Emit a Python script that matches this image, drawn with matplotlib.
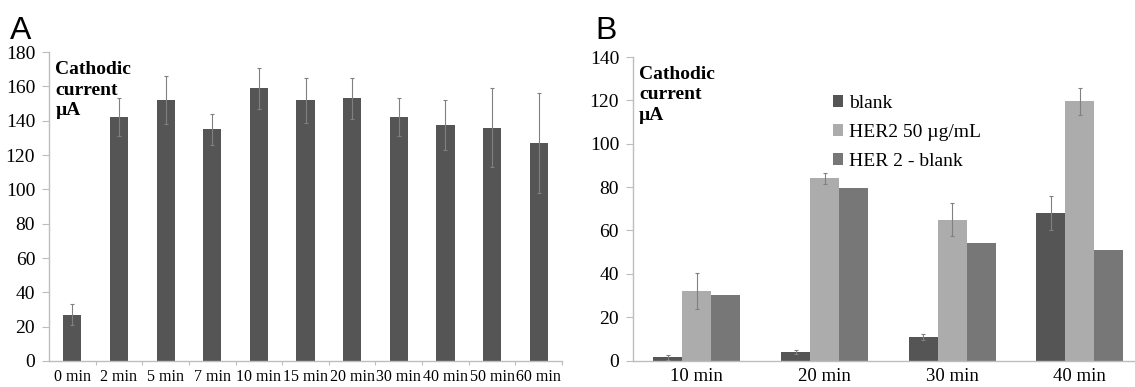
import numpy as np
import matplotlib
matplotlib.use("Agg")
import matplotlib.pyplot as plt

# panel A: single series over time
times_a = ["0 min", "2 min", "5 min", "7 min", "10 min", "15 min",
           "20 min", "30 min", "40 min", "50 min", "60 min"]
current_a = [27, 142, 152, 135, 159, 152, 153, 142, 137.5, 136, 127]
err_a = [6, 11, 14, 9, 12, 13, 12, 11, 14.5, 23, 29]

# panel B: grouped series
times_b = ["10 min", "20 min", "30 min", "40 min"]
blank = [1.5, 4, 11, 68]
blank_err = [1, 1, 1.3, 8]
her2 = [32, 84, 65, 119.5]
her2_err = [8.4, 2.5, 7.5, 6.2]
diff = [30.3, 79.5, 54.3, 51.2]

serif = "Liberation Serif"
axis_col = "#bdbdbd"
err_kw = dict(ecolor="#808080", elinewidth=0.8, capsize=1.5, capthick=0.8)


def style_axes(ax):
    for s in ["top", "right"]:
        ax.spines[s].set_visible(False)
    for s in ["left", "bottom"]:
        ax.spines[s].set_color(axis_col)
        ax.spines[s].set_linewidth(1.0)
    ax.tick_params(axis="y", direction="out", length=5, width=0.8,
                   color=axis_col, pad=5, labelsize=14)
    for lab in ax.get_yticklabels():
        lab.set_fontfamily(serif)


def cathodic_label(ax):
    ax.text(0.012, 0.97, "Cathodic\ncurrent\nµA", transform=ax.transAxes,
            ha="left", va="top", fontfamily=serif, fontweight="bold",
            fontsize=14, linespacing=1.25)


fig = plt.figure(figsize=(11.35, 3.87), dpi=100)

# ---- panel A
ax1 = fig.add_axes([0.0432, 0.0672, 0.452, 0.798])
x = np.arange(len(times_a))
ax1.bar(x, current_a, 0.39, color="#555555", yerr=err_a, error_kw=err_kw)
ax1.set_xlim(-0.5, len(times_a) - 0.5)
ax1.set_ylim(0, 180)
ax1.set_yticks(range(0, 181, 20))
ax1.set_xticks(x)
ax1.set_xticklabels(times_a, fontfamily=serif, fontsize=11.5)
ax1.set_xticks(np.arange(0.5, len(times_a), 1), minor=True)
ax1.tick_params(axis="x", which="major", length=0, pad=6)
ax1.tick_params(axis="x", which="minor", length=3, width=0.8, color=axis_col)
style_axes(ax1)
cathodic_label(ax1)
fig.text(10 / 1135, 1 - 39 / 387, "A", fontfamily="Liberation Sans",
         fontsize=23, ha="left", va="baseline")

# ---- panel B
ax2 = fig.add_axes([0.5577, 0.0682, 0.450, 0.7845])
xb = np.arange(len(times_b))
w = 0.227
b1 = ax2.bar(xb - w, blank, w, color="#555555", yerr=blank_err,
             error_kw=err_kw, label="blank")
b2 = ax2.bar(xb, her2, w, color="#acacac", yerr=her2_err,
             error_kw=err_kw, label="HER2 50 µg/mL")
b3 = ax2.bar(xb + w, diff, w, color="#777777", label="HER 2 - blank")
ax2.set_xlim(-0.5, len(times_b) - 0.5)
ax2.set_ylim(0, 140)
ax2.set_yticks(range(0, 141, 20))
ax2.set_xticks(xb)
ax2.set_xticklabels(times_b, fontfamily=serif, fontsize=13.5)
ax2.tick_params(axis="x", length=0, pad=5)
style_axes(ax2)
cathodic_label(ax2)
ax2.legend(handles=[b1, b2, b3], loc="upper left",
           bbox_to_anchor=(0.391, 0.875), frameon=False,
           prop={"family": serif, "size": 14},
           handlelength=0.55, handleheight=0.55, handletextpad=0.3,
           labelspacing=0.62, borderpad=0, borderaxespad=0)
fig.text(595 / 1135, 1 - 39 / 387, "B", fontfamily="Liberation Sans",
         fontsize=23, ha="left", va="baseline")

fig.savefig("out.png", dpi=100)
